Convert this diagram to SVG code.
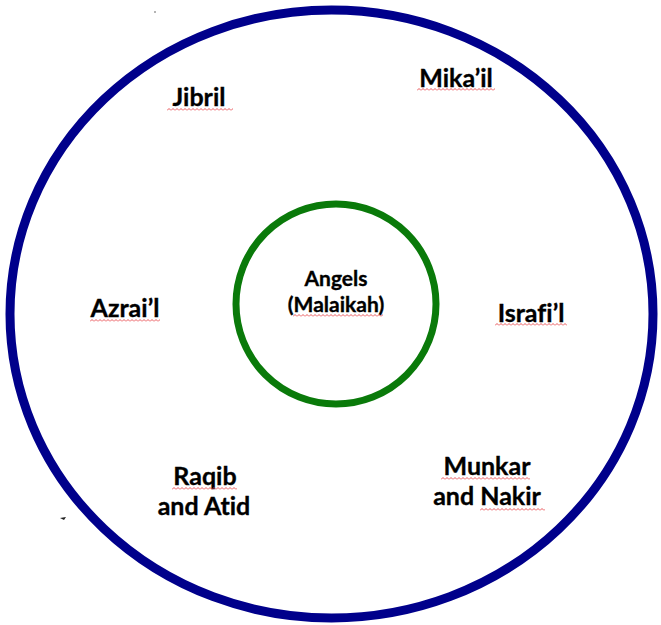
<svg xmlns="http://www.w3.org/2000/svg" width="661" height="625" viewBox="0 0 661 625">
<style>
.lbl{font-family:Lato,"Liberation Sans",sans-serif;font-weight:bold;font-size:25px;fill:#000;stroke:#000;stroke-width:0.35;text-anchor:middle;font-variant-ligatures:none}
.core{font-size:21px}
.ring{fill:none}
</style>
<defs>
<pattern id="wave" width="4" height="3" patternUnits="userSpaceOnUse">
<path d="M0 2.5 L2 0.5 L4 2.5" fill="none" stroke="#e8454a" stroke-width="0.9"/>
</pattern>
</defs>
<rect width="661" height="625" fill="#fff"/>
<g id="outer"><ellipse class="ring" cx="331.5" cy="314" rx="321.5" ry="304" stroke="#00008b" stroke-width="9"/></g>
<g id="center">
<circle class="ring" cx="336" cy="304" r="100" stroke="#0a7a0a" stroke-width="7"/>
<text class="lbl core" x="336" y="286">Angels</text>
<text class="lbl core" x="336" y="312">(Malaikah)</text>
<g transform="translate(293,314)"><rect width="90" height="3" fill="url(#wave)"/></g>
</g>
<g id="jibril">
<text class="lbl" x="199" y="106">Jibril</text>
<g transform="translate(167,108)"><rect width="66" height="3" fill="url(#wave)"/></g>
</g>
<g id="mikail">
<text class="lbl" x="456" y="87">Mika’il</text>
<g transform="translate(417,88)"><rect width="78" height="3" fill="url(#wave)"/></g>
</g>
<g id="azrail">
<text class="lbl" x="125" y="317">Azrai’l</text>
<g transform="translate(90,319)"><rect width="70" height="3" fill="url(#wave)"/></g>
</g>
<g id="israfil">
<text class="lbl" x="531" y="322">Israfi’l</text>
<g transform="translate(495,323)"><rect width="72" height="3" fill="url(#wave)"/></g>
</g>
<g id="raqib">
<text class="lbl" x="205" y="485">Raqib</text>
<text class="lbl" x="204" y="515">and Atid</text>
<g transform="translate(172,487)"><rect width="65" height="3" fill="url(#wave)"/></g>
</g>
<g id="munkar">
<text class="lbl" x="487" y="475">Munkar</text>
<text class="lbl" x="487" y="505">and Nakir</text>
<g transform="translate(441,477)"><rect width="89" height="3" fill="url(#wave)"/></g>
<g transform="translate(480,508)"><rect width="65" height="3" fill="url(#wave)"/></g>
</g>
<g id="marks">
<circle cx="155" cy="12" r="0.8" fill="#555"/>
<path d="M60 518 L66 517 L64 520 Z" fill="#222"/>
</g>
</svg>
